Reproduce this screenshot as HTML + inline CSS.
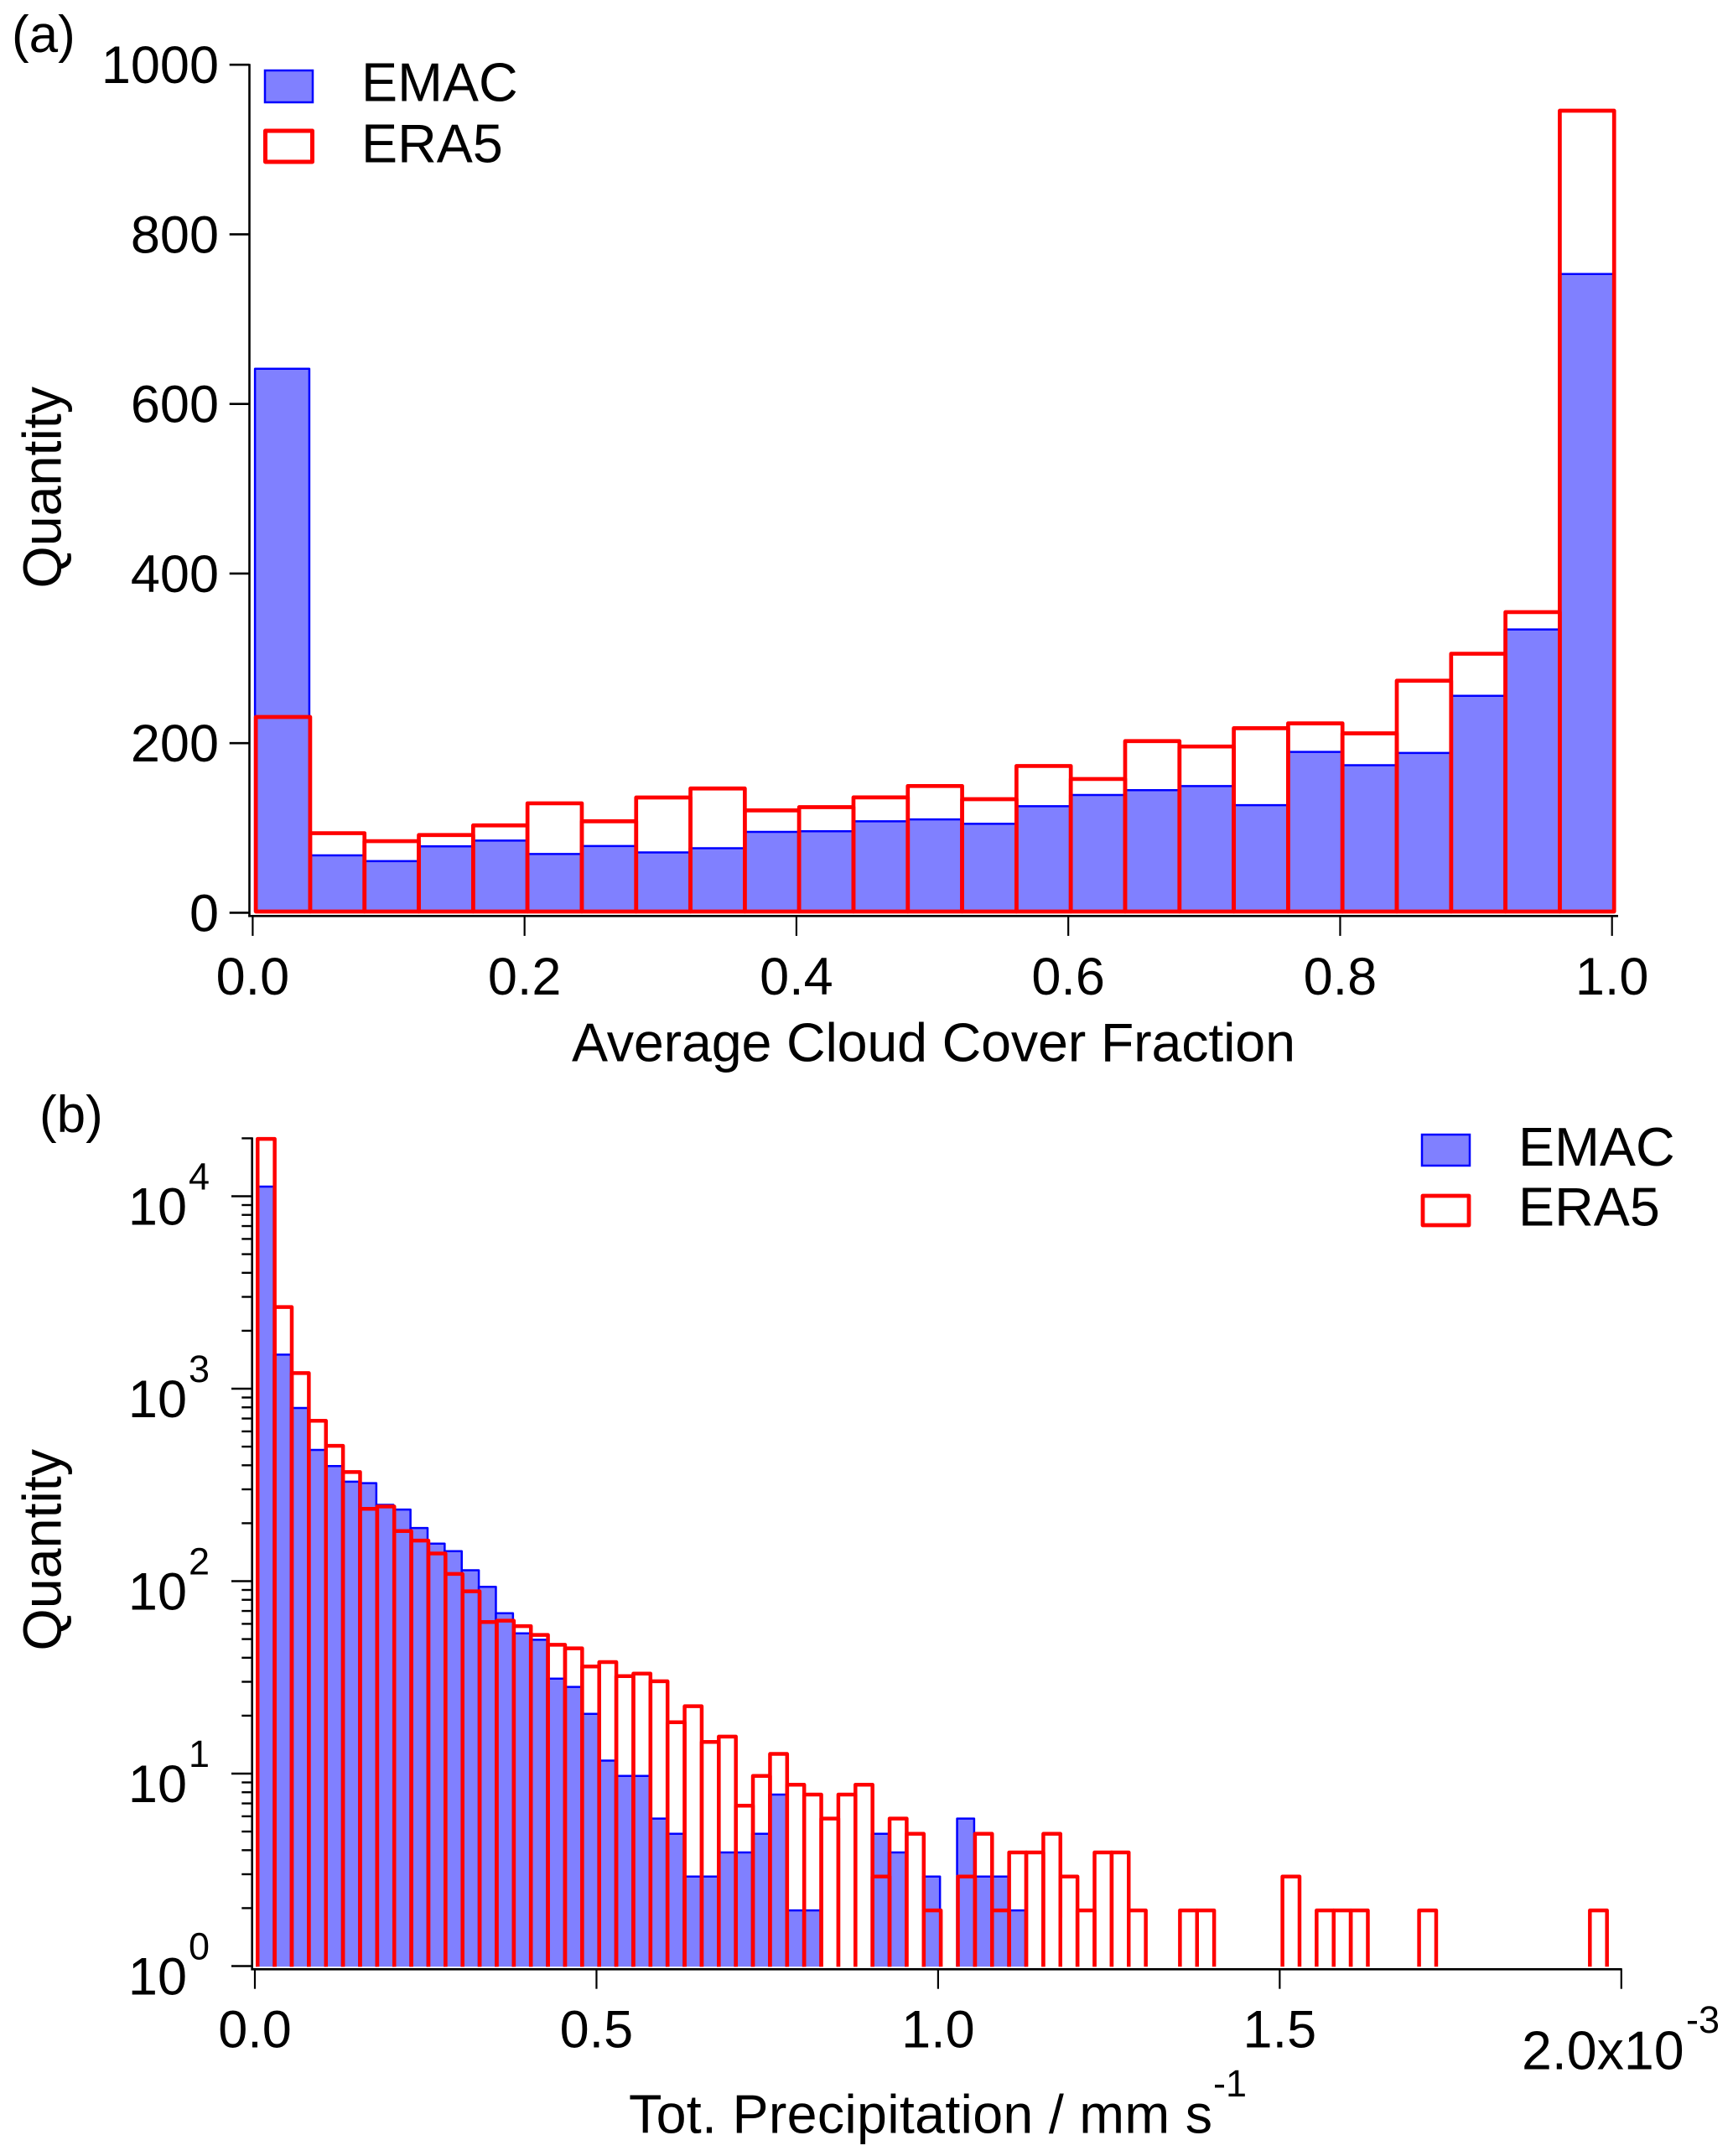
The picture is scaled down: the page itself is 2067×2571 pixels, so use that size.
<!DOCTYPE html>
<html lang="en">
<head>
<meta charset="utf-8">
<title>EMAC vs ERA5 histograms</title>
<style>
  html, body { margin: 0; padding: 0; background: #fff; }
  svg { display: block; }
  text { font-family: "Liberation Sans", Arial, sans-serif; fill: #000; font-size: 63px; }
  .sup { font-size: 45px; }
  .title { font-size: 64.6px; }
</style>
</head>
<body>
<svg id="chart" xmlns="http://www.w3.org/2000/svg" width="2067" height="2571" viewBox="0 0 2067 2571">
  <defs>
    <clipPath id="clip-b"><rect x="290" y="1340" width="1700" height="1005.2"></rect></clipPath>
  </defs>
  <rect x="0" y="0" width="2067" height="2571" fill="#fff"></rect>
  <g id="marks-a"></g>
  <g id="marks-b" clip-path="url(#clip-b)"></g>
  <g id="axes"></g>

  <text x="14" y="62" style="font-size:62px">(a)</text>
  <text x="47" y="1350" style="font-size:62px">(b)</text>

  <text class="title" transform="translate(72.5,701.5) rotate(-90)">Quantity</text>
  <text class="title" x="682" y="1265.5" textLength="863">Average Cloud Cover Fraction</text>

  <text class="title" transform="translate(72.5,1968.5) rotate(-90)">Quantity</text>
  <text class="title" x="750" y="2543.5" textLength="696">Tot. Precipitation / mm s</text>
  <text class="sup" x="1447" y="2500">-1</text>

  <g>
    <rect x="316" y="84" width="57" height="38" fill="#8080ff" stroke="#0000ff" stroke-width="2.5"></rect>
    <text class="title" x="431" y="120.5">EMAC</text>
    <rect x="316.5" y="156" width="56" height="37" fill="#fff" stroke="#ff0000" stroke-width="5" stroke-linejoin="round"></rect>
    <text class="title" x="431" y="193.3">ERA5</text>
  </g>
  <g>
    <rect x="1696" y="1353" width="57" height="37" fill="#8080ff" stroke="#0000ff" stroke-width="2.5"></rect>
    <text class="title" x="1811" y="1390">EMAC</text>
    <rect x="1697" y="1426" width="55" height="35" fill="#fff" stroke="#ff0000" stroke-width="4.8" stroke-linejoin="round"></rect>
    <text class="title" x="1811" y="1461.7">ERA5</text>
  </g>

  <text x="1815" y="2467.7" style="font-size:64.5px">2.0x10</text>
  <text class="sup" x="2011" y="2424">-3</text>
</svg>

<script>
// Panel (a): average cloud cover fraction
const emacCloud = [641.5,67.7,60.9,78.3,85.1,69.2,78.7,71.1,76,95.3,96.1,107.8,110,104.8,125.6,138.8,144.5,149.4,126.8,189.6,174,188.4,255.8,334,753.2];
const era5Cloud = [230.8,93.8,84.4,91.6,103,129,107.8,135.9,146.5,120.7,124.5,136,149.4,133.9,173,157.7,202.4,196,217.6,223.3,211.5,273.6,305.4,354.5,945.8];
const binStartCloud = 0.0023;
const binWidthCloud = 0.03997;
const yTicksCloud = [0,200,400,600,800,1000];
const xTicksCloud = [0,0.2,0.4,0.6,0.8,1.0];

// Panel (b): total precipitation (x in units of 1e-3 mm/s)
const emacPrecip = [11530,1545,816,494,407,338,332,256,242,194,161,147,117,96,70,55,51,32,29,21,12,10,10,6,5,3,3,4,4,5,8,2,2,0,0,0,5,4,0,3,0,6,3,3,2];
const era5Precip = [20400,2728,1239,700,519,379,244,251,187,167,143,112,91,63,64,60,54,48,46,37,39,33,34,31,19,23,15,16,7,10,13,9,8,6,8,9,3,6,5,2,0,3,5,2,4,4,5,3,2,4,4,2,0,0,2,2,0,0,0,0,3,0,2,2,2,0,0,0,2,0,0,0,0,0,0,0,0,0,2];
const binStartPrecip = 0.004;
const binWidthPrecip = 0.025;
const yDecadesPrecip = [0,1,2,3,4];
const yMinorPrecip = [2,3,4,5,6,7,8,9];
const yTopPrecip = 20000;
const xTicksPrecip = [0,0.5,1.0,1.5,2.0];
const xTickLabelsPrecip = ['0.0','0.5','1.0','1.5',''];

const NS = 'http://www.w3.org/2000/svg';
const xA = v => 301.4 + 1621.3 * v;
const yA = v => 1088.4 - 1.0112 * v;
const xB = v => 304 + 814.9 * v;
const yB = v => 2344.5 - 229.5 * Math.log10(v);
const MARK_SHIFT_B = 2.7;
const BASE_SHIFT_A = -1.4;
const BLUE_SHIFT = -1;

function make(tag, parent, attrs) {
  const n = document.createElementNS(NS, tag);
  for (const k in attrs) n.setAttribute(k, attrs[k]);
  parent.appendChild(n);
  return n;
}
const axes = document.getElementById('axes');
const marksA = document.getElementById('marks-a');
const marksB = document.getElementById('marks-b');

function barsA(values, color) {
  values.forEach(function (v, i) {
    const shift = color === 'blue' ? BLUE_SHIFT : 0;
    const x0 = xA(binStartCloud + i * binWidthCloud) + shift;
    const x1 = xA(binStartCloud + (i + 1) * binWidthCloud) + shift;
    const top = yA(v);
    const base = yA(0) + BASE_SHIFT_A;
    const r = make('rect', marksA, {
      x: x0, y: top, width: x1 - x0, height: base - top,
      fill: color === 'blue' ? '#8080ff' : 'none',
      stroke: color === 'blue' ? '#0000ff' : '#ff0000',
      'stroke-width': color === 'blue' ? 2.5 : 4.7,
      'stroke-linejoin': 'round'
    });
    
    
  });
}
function barsB(values, color) {
  values.forEach(function (v, i) {
    if (v <= 0) return;
    const shift = color === 'blue' ? BLUE_SHIFT : 0;
    const x0 = xB(binStartPrecip + i * binWidthPrecip) + shift;
    const x1 = xB(binStartPrecip + (i + 1) * binWidthPrecip) + shift;
    const top = yB(v) + MARK_SHIFT_B;
    const base = yB(1) + MARK_SHIFT_B + 6;
    const r = make('rect', marksB, {
      x: x0, y: top, width: x1 - x0, height: base - top,
      fill: color === 'blue' ? '#8080ff' : 'none',
      stroke: color === 'blue' ? '#0000ff' : '#ff0000',
      'stroke-width': color === 'blue' ? 2.5 : 4.5,
      'stroke-linejoin': 'round'
    });
    
    
  });
}
barsA(emacCloud, 'blue');
barsA(era5Cloud, 'red');
barsB(emacPrecip, 'blue');
barsB(era5Precip, 'red');

function line(x1, y1, x2, y2, w) {
  return make('line', axes, { x1: x1, y1: y1, x2: x2, y2: y2, stroke: '#000', 'stroke-width': w });
}
function label(str, x, y, anchor, cls) {
  const t = make('text', axes, { x: x, y: y, 'text-anchor': anchor });
  if (cls) t.setAttribute('class', cls);
  t.textContent = str;
  return t;
}

// Panel (a) axes
const axisYA = line(297.5, yA(1000) - 1, 297.5, 1093.5, 2.6);


const axisXA = line(296.2, 1092.3, 1930, 1092.3, 2.6);


yTicksCloud.forEach(function (v) {
  const tk = line(273.7, yA(v), 297.5, yA(v), 2.6);
  
  
  const lb = label(String(v), 261, yA(v) + 22, 'end');
  
  
});
xTicksCloud.forEach(function (v) {
  const tk = line(xA(v), 1092.3, xA(v), 1116, 2.2);
  
  
  const lb = label(v.toFixed(1), xA(v), 1186, 'middle');
  
  
});

// Panel (b) axes
const axisYB = line(300.7, yB(yTopPrecip) - 1, 300.7, 2349.5, 2.6);


const axisXB = line(299.4, 2348.3, 1934.7, 2348.3, 2.6);


yDecadesPrecip.forEach(function (d) {
  const p = Math.pow(10, d);
  const y = yB(p);
  const tk = line(276, y, 300.7, y, 2.4);
  
  
  const lb = label('10', 223, y + 34, 'end');
  
  
  const ex = label(String(d), 225, y - 8, 'start', 'sup');
  
  
  yMinorPrecip.forEach(function (m) {
    const v = m * p;
    if (v > yTopPrecip) return;
    const mt = line(288.3, yB(v), 300.7, yB(v), 2.4);
    
    
  });
});
xTicksPrecip.forEach(function (v, i) {
  const tk = line(xB(v), 2348.3, xB(v), 2371.7, 2.2);
  
  
  if (xTickLabelsPrecip[i]) {
    const lb = label(xTickLabelsPrecip[i], xB(v), 2441.7, 'middle');
    
    
  }
});
</script>
</body>
</html>
